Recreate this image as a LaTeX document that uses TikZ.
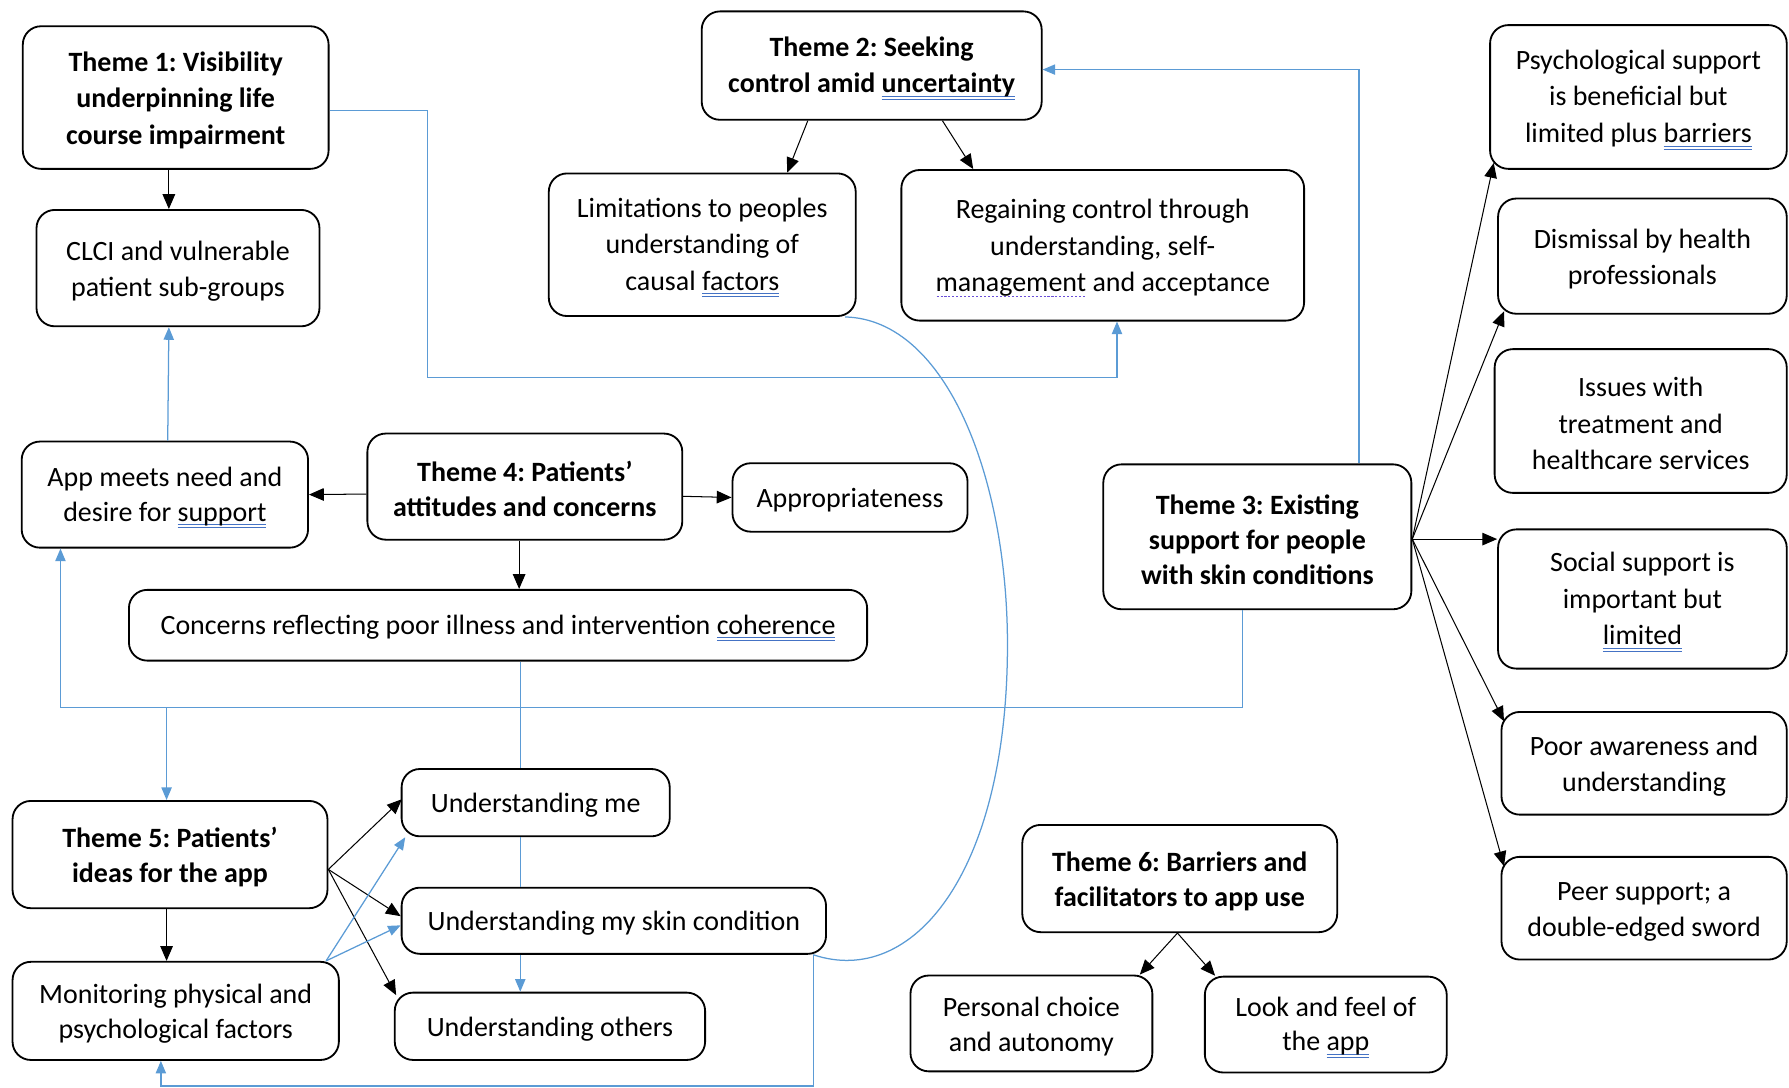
\documentclass[tikz,border=0pt]{standalone}
\usepackage{fontspec}
\setmainfont{Carlito}
\usetikzlibrary{calc,arrows.meta}

\definecolor{linkblue}{HTML}{5B9BD5}
\definecolor{ulblue}{HTML}{4472C4}
\definecolor{ulpurple}{HTML}{6A4FD8}

% proofing-style underlines
\newsavebox\ulbox
\newcommand\dul[1]{\sbox\ulbox{#1}%
  \rlap{\color{ulblue}\rule[-3.6pt]{\wd\ulbox}{0.9pt}}%
  \rlap{\color{ulblue}\rule[-6.2pt]{\wd\ulbox}{0.9pt}}%
  \usebox\ulbox}
\newcommand\dotul[1]{\sbox\ulbox{#1}%
  \rlap{\color{ulpurple}\raisebox{-5pt}{\hbox to\wd\ulbox{\xleaders\hbox to 3.4pt{\hss\rule{1.8pt}{1.4pt}\hss}\hfill}}}%
  \usebox\ulbox}
% taller first line, lowers the text block a little inside its box
\newcommand\fl{\rule{0pt}{22pt}}

\tikzset{
  box/.style={draw, line width=1.6pt, rounded corners=16pt, align=center,
    inner sep=2pt, font=\fontsize{24.5}{32}\selectfont,
    execute at begin node={\frenchspacing\rule{0pt}{22pt}}},
  tight/.style={font=\fontsize{24.5}{30.5}\selectfont},
  bbold/.style={font=\fontsize{24.5}{32}\selectfont\bfseries},
  tbold/.style={font=\fontsize{24.5}{30.5}\selectfont\bfseries},
  sz/.style 2 args={minimum width=#1pt, minimum height=#2pt},
  blk/.style={line width=0.9pt, -{Triangle[length=13pt,width=11pt]}},
  blu/.style={draw=linkblue, line width=1.1pt},
  bluarr/.style={blu, -{Triangle[length=11pt,width=9pt]}, linkblue},
}

\begin{document}
\begin{tikzpicture}[x=1pt,y=-1pt]
\useasboundingbox (0,0) rectangle (1568,953);

% theme and subtheme boxes
\node[box,bbold,sz={268}{125}] (t1)   at (154,85.5)   {\fl Theme 1: Visibility\\underpinning life\\course impairment};
\node[box,sz={248}{102}]       (clci) at (156,235)    {\fl CLCI and vulnerable\\patient sub-groups};
\node[box,bbold,sz={298}{95}]  (t2)   at (764,57.5)   {\fl Theme 2: Seeking\\control amid \dul{uncertainty}};
\node[box,sz={269}{125}]       (lim)  at (615.5,214.5){\fl Limitations to peoples\\understanding of\\causal \dul{factors}};
\node[box,sz={353}{132}]       (reg)  at (966.5,215)  {\fl Regaining control through\\understanding, self-\\\dotul{management} and acceptance};
\node[box,sz={260}{126}]       (psy)  at (1436,85)    {\fl Psychological support\\is beneficial but\\limited plus \dul{barriers}};
\node[box,sz={253}{101}]       (dis)  at (1439.5,224.5){\fl Dismissal by health\\professionals};
\node[box,sz={256}{126}]       (iss)  at (1438,369)   {\fl Issues with\\treatment and\\healthcare services};
\node[box,tbold,sz={270}{127}] (t3)   at (1102,470.5) {\fl Theme 3: Existing\\support for people\\with skin conditions};
\node[box,sz={253}{122}]       (soc)  at (1439.5,525) {\fl Social support is\\important but\\\dul{limited}};
\node[box,sz={250}{90}]        (poor) at (1441,669)   {\fl Poor awareness and\\understanding};
\node[box,sz={250}{90}]        (peer) at (1441,796)   {\fl Peer support; a\\double-edged sword};
\node[box,tight,sz={251}{93}]  (app)  at (144.5,433.5){\fl App meets need and\\desire for \dul{support}};
\node[box,tbold,sz={276}{93}]  (t4)   at (460,426.5)  {\fl Theme 4: Patients’\\attitudes and concerns};
\node[box,sz={206}{60}]        (appr) at (745,436)    {Appropriateness};
\node[box,sz={647}{62}]        (con)  at (436.5,548)  {Concerns reflecting poor illness and intervention \dul{coherence}};
\node[box,tbold,sz={276}{94}]  (t5)   at (149,749)    {\fl Theme 5: Patients’\\ideas for the app};
\node[box,tight,sz={286}{86}]  (mon)  at (154,886)    {\fl Monitoring physical and\\psychological factors};
\node[box,sz={235}{59}]        (ume)  at (469.5,703.5){Understanding me};
\node[box,sz={372}{58}]        (usk)  at (538,807)    {Understanding my skin condition};
\node[box,sz={272}{59}]        (uot)  at (482,899.5)  {Understanding others};
\node[box,tbold,sz={276}{94}]  (t6)   at (1034,770)   {\fl Theme 6: Barriers and\\facilitators to app use};
\node[box,tight,sz={212}{84}]  (pc)   at (904,897)    {\fl Personal choice\\and autonomy};
\node[box,tight,sz={212}{84}]  (lf)   at (1162,898)   {\fl Look and feel of\\the \dul{app}};

% black links
\draw[blk] ($(t1.south)+(-6,0)$) -- ($(clci.north)+(-8,0)$);
\draw[blk] ($(t2.south)+(-56,0)$) -- ($(lim.north)+(74.5,0)$);
\draw[blk] ($(t2.south)+(62,0)$) -- ($(reg.north)+(-113.5,0)$);
\draw[blk] ($(t4.west)+(0,6.5)$) -- (app.east);
\draw[blk] ($(t4.east)+(0,8.5)$) -- (appr.west);
\draw[blk] ($(t4.south)+(-5,0)$) -- ($(con.north)+(18.5,0)$);
\coordinate (fan3) at ($(t3.east)+(0,2)$);
\draw[blk] (fan3) -- ($(psy.south west)+(4,-6)$);
\draw[blk] (fan3) -- ($(dis.south west)+(6,-3)$);
\draw[blk] (fan3) -- (fan3 -| soc.west);
\draw[blk] (fan3) -- ($(poor.north west)+(3,9)$);
\draw[blk] (fan3) -- ($(peer.north west)+(3,9)$);
\coordinate (fan5) at ($(t5.east)+(0,13)$);
\draw[blk] (fan5) -- ($(ume.west)+(1,-3)$);
\draw[blk] (fan5) -- ($(usk.west)+(0,-4)$);
\draw[blk] (fan5) -- ($(uot.north west)+(2,3)$);
\draw[blk] ($(t5.south)+(-3,0)$) -- ($(mon.north)+(-8,0)$);
\draw[blk] ($(t6.south)+(-2,0)$) -- ($(pc.north)+(95,0)$);
\draw[blk] ($(t6.south)+(-2,0)$) -- ($(lf.north)+(-97,0)$);

% blue links
\coordinate (j1) at (375,331);
\draw[bluarr] ($(t1.east)+(0,11.5)$) -| (j1) -| ($(reg.south)+(12.5,0)$);
\draw[bluarr] ($(t3.north)+(89,0)$) |- ($(t2.east)+(0,3.5)$);
\draw[bluarr] ($(app.north)+(2.5,0)$) -- ($(clci.south)+(-8,0)$);
\coordinate (j2) at (53,620);
\coordinate (j3) at (146,620);
\draw[bluarr] ($(t3.south)+(-13,0)$) |- (j2) -- ($(app.south)+(-91.5,0)$);
\draw[bluarr] (j3) -- ($(t5.north)+(-3,0)$);
\coordinate (colx) at (456,0);
\draw[blu] (colx |- con.south) -- (colx |- ume.north);
\draw[blu] (colx |- ume.south) -- (colx |- usk.north);
\draw[bluarr] (colx |- usk.south) -- (colx |- uot.north);
\coordinate (m0) at ($(mon.north east)+(-12,0)$);
\draw[bluarr] (m0) -- ($(ume.south west)+(4,0)$);
\draw[bluarr] (m0) -- ($(usk.west)+(0,4)$);
\coordinate (c1) at ($(usk.south east)+(-12,0)$);
\draw[blu] ($(lim.south east)+(-10,0)$) .. controls (830,280) and (883,420) .. (883,565)
  .. controls (883,765) and (800,866) .. (c1);
\draw[bluarr] (c1) -- ++(0,115) -| ($(mon.south)+(-13,0)$);
\end{tikzpicture}
\end{document}
